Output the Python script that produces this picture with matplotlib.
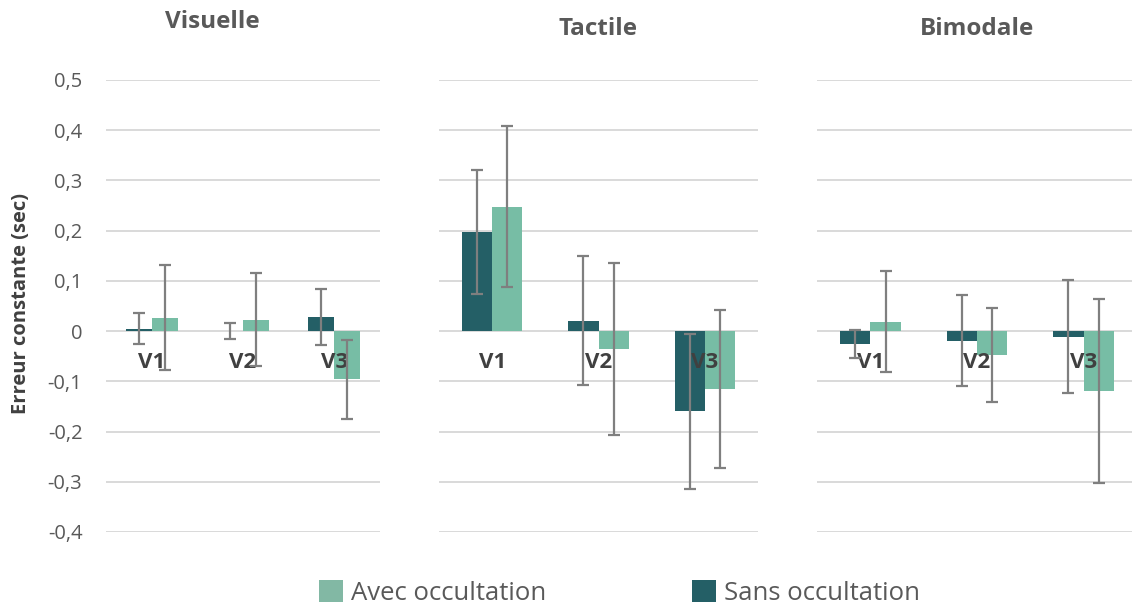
import matplotlib
matplotlib.use("Agg")
import matplotlib.pyplot as plt
import numpy as np
from matplotlib.patches import Patch

plt.rcParams['font.family'] = ['Open Sans', 'DejaVu Sans']

panels = ["Visuelle", "Tactile", "Bimodale"]
categories = ["V1", "V2", "V3"]

sans_vals = {
    "Visuelle": [0.005, 0.001, 0.028],
    "Tactile": [0.197, 0.021, -0.160],
    "Bimodale": [-0.026, -0.019, -0.011],
}
sans_err = {
    "Visuelle": [0.031, 0.016, 0.055],
    "Tactile": [0.123, 0.128, 0.155],
    "Bimodale": [0.028, 0.091, 0.113],
}
avec_vals = {
    "Visuelle": [0.027, 0.023, -0.096],
    "Tactile": [0.248, -0.035, -0.115],
    "Bimodale": [0.019, -0.047, -0.120],
}
avec_err = {
    "Visuelle": [0.104, 0.092, 0.079],
    "Tactile": [0.160, 0.171, 0.158],
    "Bimodale": [0.100, 0.094, 0.183],
}

yticks = [0.5, 0.4, 0.3, 0.2, 0.1, 0.0, -0.1, -0.2, -0.3, -0.4]
ytick_labels = ["0,5", "0,4", "0,3", "0,2", "0,1", "0", "-0,1", "-0,2", "-0,3", "-0,4"]

dark = "#245F66"
light = "#77BDA5"
err_color = "#7F7F7F"
grid_color = "#D9D9D9"
text_color = "#595959"

W, H = 1132, 608
fig = plt.figure(figsize=(W / 100, H / 100), dpi=100)

# pixel layout: (left, right)
panel_px = [(106, 380), (439, 758), (817, 1137)]
top_px, bot_px = 80, 532
title_pos = [(212, 22), (598, 29), (977, 29)]

w = 0.285
x = np.arange(len(categories))

for i, name in enumerate(panels):
    l, r = panel_px[i]
    ax = fig.add_axes([l / W, 1 - bot_px / H, (r - l) / W, (bot_px - top_px) / H])
    ax.set_ylim(-0.4, 0.5)
    ax.set_xlim(-0.5, 2.5)
    for yv in yticks:
        ax.axhline(yv, color=grid_color, lw=1.4, zorder=0)
    ax.bar(x - w / 2, sans_vals[name], w, color=dark, zorder=2)
    ax.bar(x + w / 2, avec_vals[name], w, color=light, zorder=2)
    ax.errorbar(x - w / 2, sans_vals[name], yerr=sans_err[name], fmt="none",
                ecolor=err_color, elinewidth=1.6, capsize=4.2, capthick=1.6, zorder=4)
    ax.errorbar(x + w / 2, avec_vals[name], yerr=avec_err[name], fmt="none",
                ecolor=err_color, elinewidth=1.6, capsize=4.2, capthick=1.6, zorder=4)
    for xi, c in zip(x, categories):
        ax.text(xi, -0.063, c, ha="center", va="center", fontsize=16,
                fontweight="bold", color="#404040", zorder=3)
    for s in ax.spines.values():
        s.set_visible(False)
    ax.set_xticks([])
    if i == 0:
        ax.set_yticks(yticks)
        ax.set_yticklabels(ytick_labels, fontsize=14.5, color=text_color)
        ax.tick_params(axis="y", length=0, pad=17)
    else:
        ax.set_yticks([])
    tx, ty = title_pos[i]
    fig.text(tx / W, 1 - ty / H, name, ha="center", va="center", fontsize=17.5,
             fontweight="bold", color=text_color)

fig.text(21 / W, 1 - 304 / H, "Erreur constante (sec)", rotation=90, ha="center",
         va="center", fontsize=14.5, fontweight="bold", color="#404040")

handles = [Patch(facecolor="#82B8A4", edgecolor="none", label="Avec occultation"),
           Patch(facecolor=dark, edgecolor="none", label="Sans occultation")]
leg = fig.legend(handles=handles, loc="center", bbox_to_anchor=(619.5 / W, 1 - 593 / H),
                 ncol=2, frameon=False, fontsize=18.5, handlelength=0.93, handleheight=0.95,
                 handletextpad=0.31, columnspacing=5.7, borderpad=0, borderaxespad=0)
for t in leg.get_texts():
    t.set_color(text_color)

fig.savefig("out.png", dpi=100)
